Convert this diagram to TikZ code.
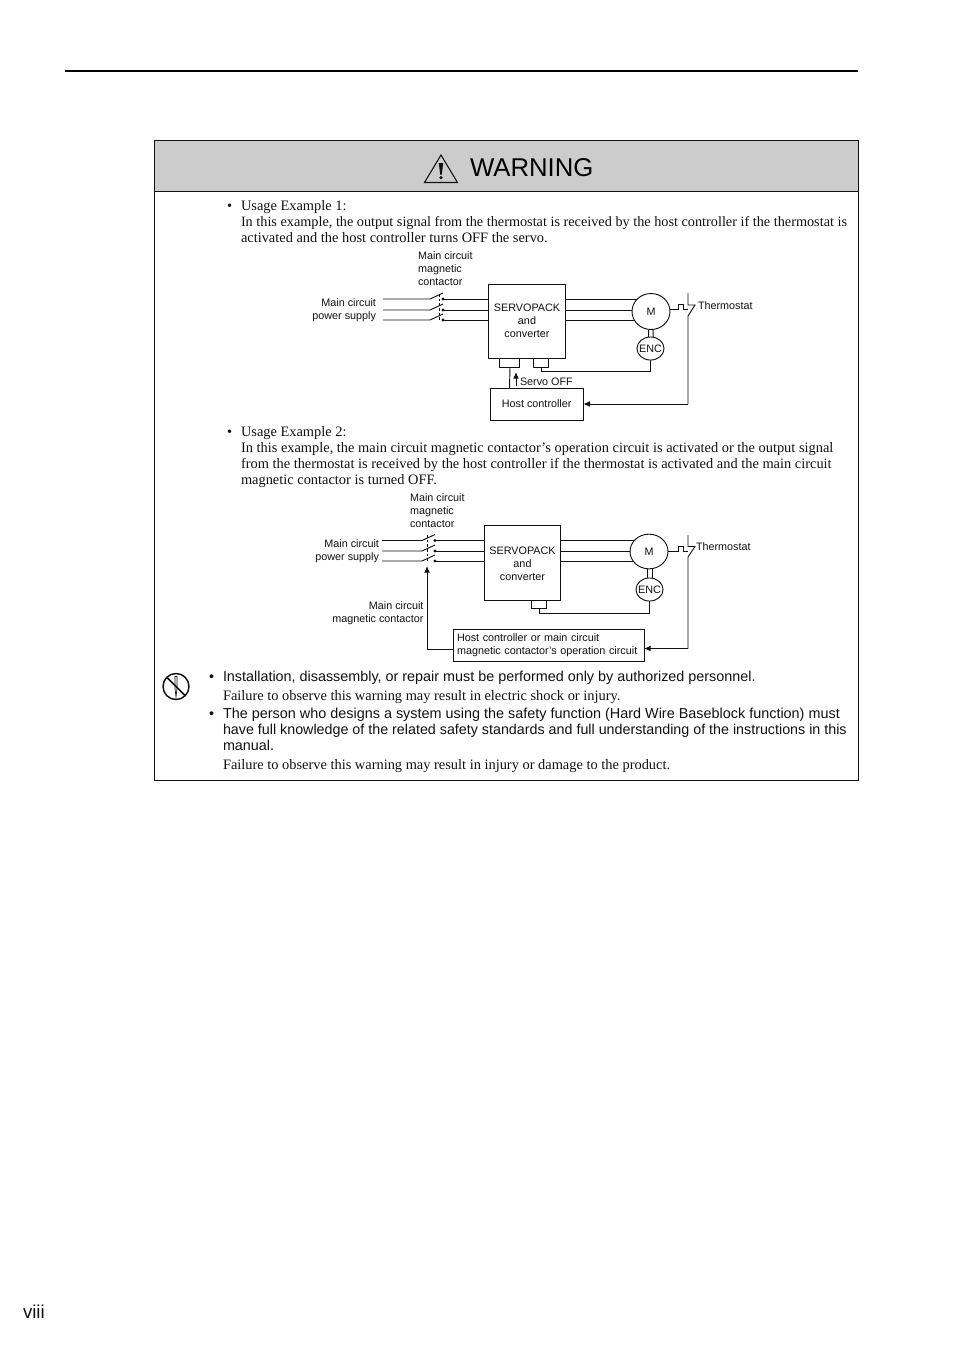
\documentclass[tikz,border=0pt]{standalone}
\usepackage{fontspec}
\setmainfont{Liberation Serif}
\newfontfamily\arialf{Liberation Sans}
\usetikzlibrary{arrows.meta,shapes.geometric,backgrounds,calc}
\definecolor{ink}{HTML}{111111}
\definecolor{headgray}{HTML}{CCCCCC}
\newcommand{\dgf}{\arialf\fontsize{8.1pt}{9.75pt}\selectfont}
\newcommand{\bodyf}{\fontsize{10.8pt}{12pt}\selectfont}
\newcommand{\bodytightf}{\fontsize{10.69pt}{12pt}\selectfont}
\newcommand{\sansf}{\arialf\fontsize{10.78pt}{12pt}\selectfont}
\tikzset{
  x=0.75pt,y=-0.75pt,
  every node/.style={inner sep=0pt,outer sep=0pt,text=ink},
  ln/.style={draw=ink,line width=0.7pt},
  body/.style={font=\bodyf,anchor=base west},
  sans/.style={font=\sansf,anchor=base west},
  dgl/.style={font=\dgf,anchor=base west,align=left},
  dgr/.style={font=\dgf,anchor=base east,align=right},
  unit/.style={ln,draw,rectangle,font=\dgf,align=center,fill=white},
  round/.style={ln,draw,ellipse,fill=white,label={[font=\dgf]center:#1}},
  tip/.style={-{Latex[length=5pt,width=4.4pt]}},
}
\newcommand{\contacts}[4]{% prefix, x of blade start, x of free end, rungs
  \foreach \yy/\nn in #4 {
    \coordinate (#1l\nn) at (#3,\yy);
    \coordinate (#1s\nn) at (#2,\yy);
    \coordinate (#1b\nn) at (#2+13,\yy-6);
    \coordinate (#1t\nn) at (#2+13,\yy);
    \draw[ln] (#1l\nn) -- (#1s\nn) -- (#1b\nn);
    \draw[ln,fill=white] (#1t\nn) circle[radius=1];
  }
}
\begin{document}
\begin{tikzpicture}
\useasboundingbox (0,0) rectangle (954,1350);

% page furniture
\coordinate (ruleL) at (65,71);
\coordinate (ruleR) at (858,71);
\draw[draw=black,line width=1.5pt] (ruleL) -- (ruleR);
\node[font=\arialf\fontsize{14pt}{14pt}\selectfont,anchor=base west] (pageno) at (23,1318) {viii};

% frame
\fill[headgray] (154.5,140.5) rectangle (858.5,191.5);
\draw[ln] (154.5,140.5) rectangle (858.5,780.5);
\draw[ln] (154.5,191.5) -- (858.5,191.5);
\node[font=\arialf\fontsize{19.3pt}{20pt}\selectfont,anchor=base west,text=black] (warn) at (470,176.5) {WARNING};
\draw[draw=ink,line width=0.8pt,line join=miter] (441,155) -- (457.5,182.5) -- (424.5,182.5) -- cycle;
\fill[ink] (438.8,163) -- (443.2,163) -- (441.8,174.5) -- (440.2,174.5) -- cycle;
\fill[ink] (441,177.6) circle[radius=1.8];

% usage example 1 text
\node[body] (b1) at (227,210) {•};
\node[body] (t1a) at (241,210) {Usage Example 1:};
\node[body,font=\bodytightf] (t1b) at (241,226) {In this example, the output signal from the thermostat is received by the host controller if the thermostat is};
\node[body] (t1c) at (241,242) {activated and the host controller turns OFF the servo.};

% diagram 1
\node[dgl] (mc1) at (418,259) {Main circuit};
\node[dgl] (mc1b) at (418,272) {magnetic};
\node[dgl] (mc1c) at (418,285) {contactor};
\node[dgr] (ps1) at (376,306) {Main circuit};
\node[dgr] (ps1b) at (376,319) {power supply};
\node[unit,minimum width=57.8pt,minimum height=55.5pt] (sp1) at (527,321) {SERVOPACK\\and\\converter};
\node[unit,minimum width=15.4pt,minimum height=6.8pt] (cn1a) at (509.5,362.5) {};
\node[unit,minimum width=11.6pt,minimum height=6.8pt] (cn1b) at (541,362.5) {};
\node[unit,minimum width=70pt,minimum height=24pt] (host1) at (536.7,404) {Host controller};
\node[round=M,minimum width=28.5pt,minimum height=27pt] (m1) at (651,311.5) {};
\node[round=ENC,minimum width=20.3pt,minimum height=17.3pt] (enc1) at (650.5,348.5) {};
\node[dgl] (th1) at (698,309) {Thermostat};
\node[dgl] (so1) at (520,385) {Servo OFF};

\contacts{a}{430}{383}{{299/x,310/y,320/z}}
\draw[ln,dash pattern=on 2pt off 1.5pt] (439,294) -- (439,320);
\begin{pgfonlayer}{background}
\foreach \nn in {x,y,z} {
  \draw[ln] (at\nn) -- (at\nn -| sp1.west);
  \draw[ln] (at\nn -| sp1.east) -- (at\nn -| m1.center);
}
\end{pgfonlayer}
\draw[ln] ($(m1.south)+(-2.4,0)$) -- ($(enc1.north)+(-2,0)$);
\draw[ln] ($(m1.south)+(2.2,0)$) -- ($(enc1.north)+(2.6,0)$);
\draw[ln] (cn1a.south) ++(0.5,0) -- (cn1a.south |- host1.north);
\coordinate (so1tail) at (516,386);
\coordinate (so1head) at (516,372);
\draw[ln,tip] (so1tail) -- (so1head);
\draw[ln] (cn1b.south) -- (541,371.5) -- (enc1.south |- 0,371.5) -- (enc1.south);
\coordinate (th1a) at (688,293);
\coordinate (th1b) at (688,305);
\coordinate (th1c) at (695,305);
\coordinate (th1d) at (688,316);
\coordinate (th1e) at (688,404);
\draw[ln] (m1.east |- 0,309.5) -- (678,309.5) -- (678,304.5) -- (683,304.5) -- (683,309.5) -- (688,309.5);
\draw[ln] (th1a) -- (th1b) -- (th1c) -- (th1d) -- (th1e);
\draw[ln,tip] (th1e) -- (host1.east);

% usage example 2 text
\node[body] (b2) at (227,436) {•};
\node[body] (t2a) at (241,436) {Usage Example 2:};
\node[body] (t2b) at (241,452) {In this example, the main circuit magnetic contactor’s operation circuit is activated or the output signal};
\node[body] (t2c) at (241,468) {from the thermostat is received by the host controller if the thermostat is activated and the main circuit};
\node[body] (t2d) at (241,484) {magnetic contactor is turned OFF.};

% diagram 2
\node[dgl] (mc2) at (410,501) {Main circuit};
\node[dgl] (mc2b) at (410,514) {magnetic};
\node[dgl] (mc2c) at (410,527) {contactor};
\node[dgr] (ps2) at (379,547) {Main circuit};
\node[dgr] (ps2b) at (379,560) {power supply};
\node[dgr] (mm2) at (423.5,609) {Main circuit};
\node[dgr] (mm2b) at (423.5,622) {magnetic contactor};
\node[unit,minimum width=57.2pt,minimum height=56.25pt] (sp2) at (522.5,563.3) {SERVOPACK\\and\\converter};
\node[unit,minimum width=11.6pt,minimum height=6pt] (cn2) at (539,604) {};
\node[unit,minimum width=143.25pt,minimum height=24pt,text width=143.25pt-6pt,align=left] (host2) at (548.5,645.4) {Host controller or main circuit\\magnetic contactor’s operation circuit};
\node[round=M,minimum width=28.5pt,minimum height=26pt] (m2) at (649,551.5) {};
\node[round=ENC,minimum width=20.3pt,minimum height=17.3pt] (enc2) at (649.5,589.5) {};
\node[dgl] (th2) at (696,550) {Thermostat};

\contacts{c}{422}{382}{{540.5/x,551/y,561/z}}
\draw[ln,dash pattern=on 2pt off 1.5pt] (427,535) -- (427,561);
\begin{pgfonlayer}{background}
\foreach \nn in {x,y,z} {
  \draw[ln] (ct\nn) -- (ct\nn -| sp2.west);
  \draw[ln] (ct\nn -| sp2.east) -- (ct\nn -| m2.center);
}
\end{pgfonlayer}
\draw[ln] ($(m2.south)+(-2,0)$) -- ($(enc2.north)+(-2.5,0)$);
\draw[ln] ($(m2.south)+(3,0)$) -- ($(enc2.north)+(2.5,0)$);
\draw[ln] (cn2.south) -- (539,613) -- (enc2.south |- 0,613) -- (enc2.south);
\coordinate (fb2) at (427,649);
\coordinate (fb2h) at (427,566);
\draw[ln] (host2.west |- fb2) -- (fb2);
\draw[ln,tip] (fb2) -- (fb2h);
\coordinate (th2a) at (688,535);
\coordinate (th2b) at (688,546.5);
\coordinate (th2c) at (695,546.5);
\coordinate (th2d) at (688,557);
\coordinate (th2e) at (688,648.5);
\draw[ln] (m2.east |- 0,551.5) -- (678,551.5) -- (678,546.5) -- (683,546.5) -- (683,551.5) -- (688,551.5);
\draw[ln] (th2a) -- (th2b) -- (th2c) -- (th2d) -- (th2e);
\draw[ln,tip] (th2e) -- (th2e -| host2.east);

% prohibition icon
\draw[draw=ink,line width=1.1pt] (176,686.5) circle[radius=13];
\draw[draw=ink,line width=1.1pt] (167,677.5) -- (185,695.5);
\draw[draw=ink,line width=0.5pt] (175,676.5) -- (175,688) -- (176,697) -- (177,688) -- (177,676.5) -- cycle;

% warning text
\node[sans] (b3) at (209,681) {•};
\node[sans] (w1) at (223,681) {Installation, disassembly, or repair must be performed only by authorized personnel.};
\node[body] (w2) at (223,700) {Failure to observe this warning may result in electric shock or injury.};
\node[sans] (b4) at (209,718) {•};
\node[sans,font=\arialf\fontsize{10.81pt}{12pt}\selectfont] (w3) at (223,718) {The person who designs a system using the safety function (Hard Wire Baseblock function) must};
\node[sans,font=\arialf\fontsize{10.72pt}{12pt}\selectfont] (w4) at (223,734) {have full knowledge of the related safety standards and full understanding of the instructions in this};
\node[sans] (w5) at (223,750) {manual.};
\node[body] (w6) at (223,769) {Failure to observe this warning may result in injury or damage to the product.};
\end{tikzpicture}
\end{document}
